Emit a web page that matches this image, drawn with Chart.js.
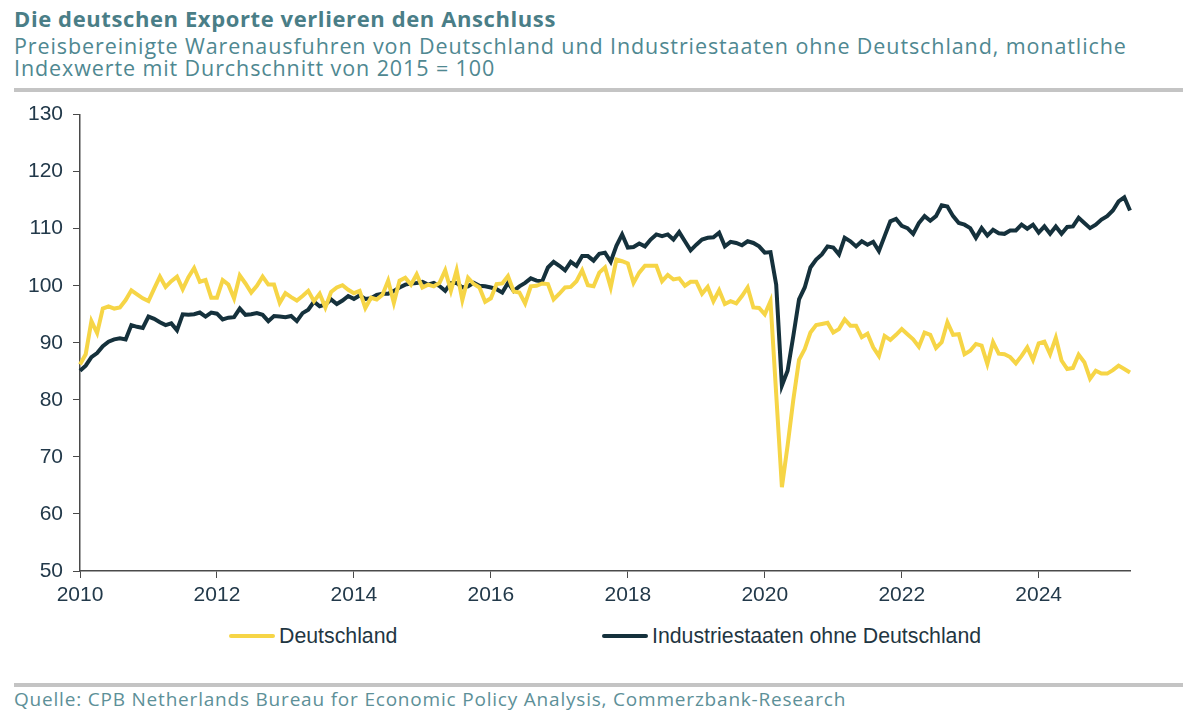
<!DOCTYPE html>
<html>
<head>
<meta charset="utf-8">
<script src="https://cdn.jsdelivr.net/npm/chart.js@4.4.1/dist/chart.umd.min.js"></script>
<style>
  body { margin: 0; width: 1200px; height: 721px; background: #fff; position: relative; overflow: hidden; font-family: "Open Sans", sans-serif; }
  #title { position: absolute; left: 14px; top: 3px; font-weight: 700; font-size: 22px; letter-spacing: 0.6px; color: #4a7e87; white-space: nowrap; }
  #sub { position: absolute; left: 14px; top: 35px; font-size: 21.5px; line-height: 22px; letter-spacing: 0.9px; color: #4f8891; white-space: nowrap; }
  .rule { position: absolute; left: 14px; width: 1169px; height: 4px; background: #c4c4c4; }
  #chartBox { position: absolute; left: 0; top: 92px; width: 1200px; height: 517px; }
  #legend { position: absolute; top: 622px; left: 0; width: 1200px; height: 28px; font-family: "Liberation Sans", Arial, sans-serif; font-size: 21.3px; color: #1f3642; }
  .item { position: absolute; top: 0; display: flex; align-items: center; height: 28px; }
  .swatch { width: 46px; height: 4px; margin-right: 4px; border-radius: 2px; }
  #source { position: absolute; left: 14px; top: 686px; font-size: 19px; letter-spacing: 0.8px; color: #5d9098; white-space: nowrap; }
</style>
</head>
<body>
<div id="title">Die deutschen Exporte verlieren den Anschluss</div>
<div id="sub">Preisbereinigte Warenausfuhren von Deutschland und Industriestaaten ohne Deutschland, monatliche<br>Indexwerte mit Durchschnitt von 2015 = 100</div>
<div class="rule" style="top:88px"></div>
<div id="chartBox"><canvas id="chart"></canvas></div>
<div id="legend"></div>
<div class="rule" style="top:683px"></div>
<div id="source">Quelle: CPB Netherlands Bureau for Economic Policy Analysis, Commerzbank-Research</div>

<script>
// monthly values, Jan 2010 - May 2025 (2015 = 100)
const startYear = 2010;
const tickYears = [2010, 2012, 2014, 2016, 2018, 2020, 2022, 2024];

const deutschland = [
    86.2, 88, 93.8, 91.7, 96, 96.4, 96, 96.2, 97.5, 99.2, 98.5, 97.8,          // 2010
    97.3, 99.5, 101.6, 99.8, 100.8, 101.6, 99.4, 101.5, 103.1, 100.7, 101, 97.9, // 2011
    97.9, 101, 100.2, 97.8, 101.8, 100.4, 98.8, 100, 101.6, 100.2, 100.2, 97,   // 2012
    98.7, 98, 97.4, 98.2, 99.1, 97.3, 98.6, 96.2, 98.9, 99.7, 100.1, 99.3,      // 2013
    98.7, 99.1, 96.1, 97.9, 97.6, 98.4, 100.9, 97, 100.9, 101.4, 100.2, 102,    // 2014
    99.7, 100.2, 99.9, 100.5, 102.7, 99.1, 102.7, 97.5, 101.4, 100.3, 99.7, 97.2, // 2015
    97.8, 100.3, 100.4, 101.7, 99, 98.8, 96.9, 99.9, 100, 100.4, 100.3, 97.6,   // 2016
    98.6, 99.7, 99.8, 100.8, 102.7, 100.1, 99.9, 102.3, 103.2, 99.7, 104.6, 104.3, // 2017
    103.9, 100.5, 102.3, 103.5, 103.5, 103.5, 100.8, 101.9, 101.1, 101.3, 100, 100.7, // 2018
    100.7, 98.6, 99.8, 97.3, 99.2, 96.8, 97.3, 96.9, 98.2, 99.7, 96.2, 96.1,    // 2019
    95, 97.3, 81, 64.7, 72, 80, 87, 88.9, 91.8, 93.1, 93.3, 93.5,               // 2020
    91.8, 92.4, 94.1, 93, 93, 91, 91.6, 89.2, 87.7, 91.2, 90.5, 91.4,           // 2021
    92.4, 91.5, 90.6, 89.3, 91.8, 91.4, 89.1, 90.1, 93.6, 91.4, 91.5, 88,       // 2022
    88.6, 89.8, 89.5, 86.3, 90.1, 88.1, 88, 87.5, 86.4, 87.7, 89.2, 87,         // 2023
    89.9, 90.2, 88, 90.9, 86.9, 85.4, 85.6, 87.9, 86.6, 83.7, 85.1, 84.6,       // 2024
    84.6, 85.2, 86, 85.4, 84.8                                                  // 2025
];

const industriestaaten = [
    85.1, 86, 87.5, 88.2, 89.4, 90.2, 90.6, 90.8, 90.6, 93.1, 92.8, 92.6,       // 2010
    94.6, 94.2, 93.6, 93.1, 93.4, 92.2, 95, 94.9, 95, 95.3, 94.6, 95.3,         // 2011
    95.1, 94.1, 94.4, 94.5, 96, 94.9, 95, 95.2, 94.9, 93.8, 94.7, 94.6,         // 2012
    94.5, 94.7, 93.8, 95.2, 95.8, 97.2, 96.4, 96.7, 97.6, 96.8, 97.4, 98.2,     // 2013
    97.7, 98.3, 97.7, 97.8, 98.4, 98.6, 98.6, 99.1, 99.7, 100.2, 100.4, 100.5,  // 2014
    100.7, 100.2, 100.5, 99.95, 99.1, 100.5, 100.5, 99.7, 99.9, 100.5, 100, 99.9, // 2015
    99.7, 99.4, 98.8, 100.5, 99.1, 99.9, 100.5, 101.3, 100.9, 100.8, 103.2, 104.2, // 2016
    103.5, 102.7, 104.2, 103.5, 105.2, 105.2, 104.4, 105.6, 105.8, 104.2, 107, 109, // 2017
    106.7, 106.8, 107.4, 106.9, 108.1, 109, 108.7, 109, 108.1, 109.4, 107.8, 106.2, // 2018
    107.2, 108.1, 108.4, 108.5, 109.3, 106.9, 107.7, 107.5, 107.1, 107.8, 107.5, 106.9, // 2019
    105.8, 105.9, 100.2, 82.5, 85.1, 91.2, 97.6, 99.7, 103.2, 104.6, 105.5, 106.9, // 2020
    106.7, 105.5, 108.4, 107.8, 106.9, 107.8, 107.2, 107.7, 106.1, 108.7, 111.3, 111.7, // 2021
    110.5, 110.1, 109.1, 111, 112.2, 111.4, 112.2, 114.1, 113.9, 112.2, 111, 110.7, // 2022
    110.1, 108.4, 110.1, 108.8, 109.8, 109.2, 109.1, 109.7, 109.7, 110.7, 110, 110.7, // 2023
    109.3, 110.4, 109.1, 110.4, 109.1, 110.3, 110.4, 111.9, 111, 110.1, 110.7, 111.6, // 2024
    112.2, 113.2, 114.8, 115.5, 113.2                                           // 2025
];

// month labels "YYYY-MM"
const months = [];
for (let i = 0; i < deutschland.length; i++) {
    const y = startYear + Math.floor(i / 12);
    const m = (i % 12) + 1;
    months.push(y + '-' + (m < 10 ? '0' + m : m));
}

const series = [
    { label: 'Deutschland', data: deutschland, color: '#f6d546' },
    { label: 'Industriestaaten ohne Deutschland', data: industriestaaten, color: '#15313c' }
];

const axisColor = '#4a4a4a';
const labelColor = '#22394a';
const axisFont = { family: '"Liberation Sans", Arial, sans-serif', size: 21 };

const isYearTick = (index) => {
    const lab = months[index];
    if (!lab) return false;
    return lab.slice(5) === '01' && tickYears.includes(+lab.slice(0, 4));
};

const ctx = document.getElementById('chart').getContext('2d');
const chart = new Chart(ctx, {
    type: 'line',
    data: {
        labels: months,
        datasets: series.map(s => ({
            label: s.label,
            data: s.data,
            borderColor: s.color,
            backgroundColor: s.color,
            borderWidth: 4,
            pointRadius: 0,
            tension: 0,
            fill: false
        }))
    },
    options: {
        responsive: true,
        maintainAspectRatio: false,
        animation: false,
        layout: { padding: { top: 13, right: 70, bottom: 0, left: 0 } },
        plugins: { legend: { display: false }, tooltip: { enabled: false } },
        scales: {
            x: {
                type: 'category',
                offset: false,
                afterFit: (scale) => { scale.height = 38; },
                border: { display: true, color: axisColor, width: 1.5 },
                grid: {
                    drawOnChartArea: false,
                    drawTicks: true,
                    tickLength: 7,
                    color: (c) => isYearTick(c.index) ? axisColor : 'rgba(0,0,0,0)'
                },
                ticks: {
                    autoSkip: false,
                    maxRotation: 0,
                    padding: 5,
                    color: labelColor,
                    font: axisFont,
                    callback: (value, index) => isYearTick(index) ? months[index].slice(0, 4) : ''
                }
            },
            y: {
                min: 50,
                max: 130,
                afterFit: (scale) => { scale.width = 80; },
                border: { display: true, color: axisColor, width: 1.5 },
                grid: { drawOnChartArea: false, drawTicks: true, tickLength: 7, color: axisColor },
                ticks: { stepSize: 10, padding: 10, color: labelColor, font: axisFont }
            }
        }
    }
});

// legend as text below the chart
const legendPos = [229, 602];
const legend = document.getElementById('legend');
series.forEach((s, i) => {
    const item = document.createElement('div');
    item.className = 'item';
    item.style.left = legendPos[i] + 'px';
    item.innerHTML = '<span class="swatch" style="background:' + s.color + '"></span><span>' + s.label + '</span>';
    legend.appendChild(item);
});
</script>
</body>
</html>
